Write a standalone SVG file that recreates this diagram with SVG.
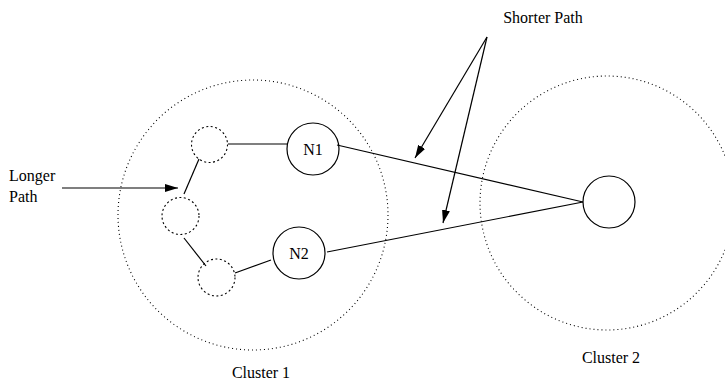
<svg xmlns="http://www.w3.org/2000/svg" width="725" height="388" viewBox="0 0 725 388">
<style>
.cl{fill:none;stroke:#000;stroke-width:1.1;stroke-dasharray:1 3}
.sm{fill:none;stroke:#000;stroke-width:1.1;stroke-dasharray:2 2.5}
.nd{fill:none;stroke:#000;stroke-width:1.2}
.ln{fill:none;stroke:#000;stroke-width:1.2}
.ar{fill:none;stroke:#000;stroke-width:1.2;marker-end:url(#ah)}
.t{font-family:'Liberation Serif','Times New Roman','DejaVu Serif',serif;font-size:16px;fill:#000}
</style>
<defs>
<marker id="ah" markerUnits="userSpaceOnUse" markerWidth="14" markerHeight="8" refX="13" refY="4" orient="auto">
<path d="M0,0 L13,4 L0,8 Z" fill="#000"/>
</marker>
</defs>
<g id="cluster1"><circle class="cl" cx="253" cy="215" r="135"/><text class="t" x="261" y="378" text-anchor="middle">Cluster 1</text></g>
<g id="cluster2"><circle class="cl" cx="607" cy="203" r="127"/><text class="t" x="611" y="363" text-anchor="middle">Cluster 2</text></g>
<g id="n1"><circle class="nd" cx="313" cy="149" r="26"/><text class="t" x="313" y="155" text-anchor="middle">N1</text></g>
<g id="n2"><circle class="nd" cx="299" cy="253" r="26"/><text class="t" x="299" y="259" text-anchor="middle">N2</text></g>
<g id="n3"><circle class="nd" cx="609" cy="202" r="26"/></g>
<g id="da"><circle class="sm" cx="209.5" cy="144.5" r="18"/></g>
<g id="db"><circle class="sm" cx="180.5" cy="216" r="18.5"/></g>
<g id="dc"><circle class="sm" cx="216.5" cy="277.5" r="18.5"/></g>
<g id="labels">
<text class="t" x="543" y="23" text-anchor="middle">Shorter Path</text>
<text class="t" x="9" y="181">Longer</text>
<text class="t" x="9" y="202">Path</text>
</g>
<g id="connectors">
<line class="ln" x1="228" y1="144" x2="287" y2="144"/>
<line class="ln" x1="199" y1="159" x2="184" y2="194"/>
<line class="ln" x1="184" y1="238" x2="206" y2="266"/>
<line class="ln" x1="235" y1="273" x2="271" y2="260"/>
<line class="ln" x1="337" y1="145" x2="583" y2="202"/>
<line class="ln" x1="327" y1="252" x2="583" y2="202"/>
<line class="ar" x1="487" y1="37" x2="415" y2="158"/>
<line class="ar" x1="487" y1="37" x2="443" y2="223"/>
<line class="ar" x1="62" y1="188" x2="178" y2="188"/>
</g>
</svg>
